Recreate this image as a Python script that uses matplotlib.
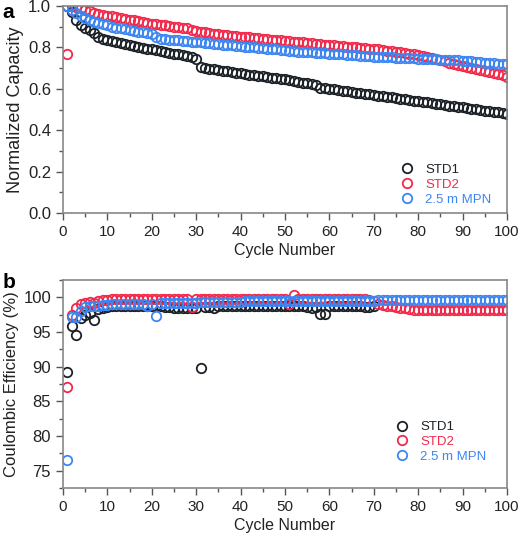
import matplotlib
matplotlib.use("Agg")
import matplotlib.pyplot as plt
from matplotlib.ticker import MultipleLocator

plt.rcParams['font.family'] = ['Liberation Sans', 'DejaVu Sans']

# cycle numbers
cycles = list(range(1, 101))

# normalized capacity
cap_std1 = [1.00, 0.97, 0.93, 0.91, 0.895, 0.885, 0.87, 0.85, 0.84, 0.835,
            0.83, 0.825, 0.82, 0.815, 0.81, 0.805, 0.80, 0.797, 0.793, 0.79,
            0.786, 0.782, 0.778, 0.774, 0.77, 0.766, 0.762, 0.758, 0.752, 0.745,
            0.705, 0.70, 0.697, 0.694, 0.69, 0.687, 0.684, 0.681, 0.678, 0.675,
            0.672, 0.669, 0.666, 0.663, 0.66, 0.657, 0.654, 0.651, 0.648, 0.645,
            0.642, 0.638, 0.634, 0.63, 0.626, 0.622, 0.618, 0.605, 0.602, 0.60,
            0.597, 0.594, 0.591, 0.588, 0.585, 0.582, 0.579, 0.576, 0.573, 0.57,
            0.567, 0.564, 0.561, 0.558, 0.555, 0.552, 0.549, 0.546, 0.543, 0.54,
            0.537, 0.534, 0.531, 0.528, 0.525, 0.522, 0.519, 0.516, 0.513, 0.51,
            0.507, 0.504, 0.501, 0.498, 0.495, 0.492, 0.489, 0.486, 0.483, 0.48]
cap_std2 = [0.77, 1.00, 0.995, 0.99, 0.98, 0.975, 0.965, 0.96, 0.957, 0.953,
            0.95, 0.946, 0.942, 0.938, 0.934, 0.93, 0.926, 0.922, 0.918, 0.915,
            0.912, 0.909, 0.906, 0.903, 0.90, 0.898, 0.896, 0.894, 0.885, 0.878,
            0.875, 0.872, 0.869, 0.866, 0.863, 0.86, 0.858, 0.856, 0.854, 0.852,
            0.85, 0.848, 0.846, 0.844, 0.842, 0.84, 0.838, 0.836, 0.834, 0.832,
            0.83, 0.828, 0.826, 0.824, 0.822, 0.82, 0.818, 0.816, 0.814, 0.812,
            0.81, 0.808, 0.806, 0.804, 0.802, 0.80, 0.798, 0.796, 0.794, 0.792,
            0.79, 0.788, 0.785, 0.782, 0.779, 0.776, 0.773, 0.77, 0.766, 0.762,
            0.757, 0.752, 0.747, 0.742, 0.737, 0.732, 0.727, 0.722, 0.717, 0.712,
            0.707, 0.702, 0.697, 0.692, 0.687, 0.682, 0.677, 0.672, 0.665, 0.658]
cap_mpn = [1.00, 0.98, 0.965, 0.95, 0.94, 0.932, 0.925, 0.918, 0.912, 0.906,
           0.90, 0.896, 0.892, 0.888, 0.884, 0.88, 0.876, 0.872, 0.868, 0.864,
           0.85, 0.843, 0.84, 0.838, 0.836, 0.834, 0.832, 0.83, 0.828, 0.826,
           0.824, 0.822, 0.82, 0.818, 0.816, 0.814, 0.812, 0.81, 0.808, 0.806,
           0.804, 0.802, 0.80, 0.798, 0.796, 0.794, 0.792, 0.79, 0.788, 0.786,
           0.784, 0.782, 0.78, 0.778, 0.777, 0.776, 0.775, 0.774, 0.772, 0.77,
           0.768, 0.767, 0.766, 0.764, 0.762, 0.761, 0.76, 0.758, 0.757, 0.756,
           0.755, 0.754, 0.753, 0.752, 0.751, 0.75, 0.749, 0.748, 0.747, 0.746,
           0.745, 0.744, 0.743, 0.742, 0.741, 0.74, 0.739, 0.738, 0.737, 0.736,
           0.735, 0.733, 0.731, 0.729, 0.727, 0.725, 0.723, 0.721, 0.72, 0.718]

# coulombic efficiency (%), STD1 recorded up to cycle 70
ce_std1 = [89.3, 95.8, 94.5, 97.0, 97.5, 97.8, 96.8, 98.3, 98.5, 98.6,
           98.7, 98.7, 98.8, 98.8, 98.8, 98.8, 98.8, 98.8, 98.8, 98.8,
           98.7, 98.7, 98.6, 98.6, 98.5, 98.5, 98.5, 98.5, 98.5, 98.5,
           89.8, 98.6, 98.6, 98.5, 98.7, 98.7, 98.7, 98.7, 98.7, 98.7,
           98.7, 98.7, 98.7, 98.7, 98.7, 98.7, 98.7, 98.7, 98.7, 98.7,
           98.7, 98.7, 98.7, 98.7, 98.6, 98.5, 98.6, 97.6, 97.6, 98.7,
           98.7, 98.7, 98.7, 98.7, 98.7, 98.7, 98.7, 98.6, 98.6, 98.7]
ce_std2 = [87.1, 97.4, 98.4, 99.0, 99.2, 99.3, 99.2, 99.5, 99.6, 99.6,
           99.7, 99.7, 99.7, 99.7, 99.7, 99.7, 99.7, 99.7, 99.7, 99.7,
           99.7, 99.7, 99.7, 99.7, 99.7, 99.7, 99.7, 99.7, 98.6, 99.7,
           99.8, 99.8, 99.8, 99.8, 99.8, 99.8, 99.8, 99.8, 99.8, 99.8,
           99.8, 99.8, 99.8, 99.8, 99.8, 99.8, 99.8, 99.8, 99.8, 99.8,
           99.0, 100.3, 99.8, 99.8, 99.8, 99.8, 99.8, 99.8, 99.8, 99.8,
           99.8, 99.8, 99.8, 99.8, 99.8, 99.8, 99.8, 99.8, 99.6, 99.4,
           99.1, 98.9, 98.8, 98.7, 98.6, 98.5, 98.4, 98.3, 98.2, 98.2,
           98.2, 98.2, 98.2, 98.2, 98.2, 98.2, 98.2, 98.2, 98.2, 98.2,
           98.2, 98.2, 98.2, 98.2, 98.2, 98.2, 98.2, 98.2, 98.2, 98.2]
ce_mpn = [76.5, 97.1, 97.2, 98.0, 98.6, 98.7, 98.8, 98.8, 98.9, 98.9,
          99.0, 99.0, 99.0, 99.1, 99.1, 99.1, 99.1, 99.1, 98.8, 99.0,
          97.3, 99.2, 99.2, 99.2, 99.2, 99.2, 99.2, 99.2, 99.2, 99.2,
          99.3, 99.3, 99.3, 99.3, 99.3, 99.3, 99.3, 99.3, 99.3, 99.3,
          99.4, 99.4, 99.4, 99.4, 99.4, 99.4, 99.4, 99.4, 99.4, 99.4,
          99.5, 99.5, 99.5, 99.5, 99.5, 99.5, 99.5, 99.5, 99.5, 99.5,
          99.5, 99.5, 99.5, 99.5, 99.5, 99.5, 99.5, 99.5, 99.5, 99.5,
          99.6, 99.6, 99.6, 99.6, 99.6, 99.6, 99.6, 99.6, 99.6, 99.6,
          99.6, 99.6, 99.6, 99.6, 99.6, 99.6, 99.6, 99.6, 99.6, 99.6,
          99.6, 99.6, 99.6, 99.6, 99.6, 99.6, 99.6, 99.6, 99.6, 99.6]

labels = ["STD1", "STD2", "2.5 m MPN"]
colors = ["#1b2127", "#f2294a", "#3d86f2"]

fig = plt.figure(figsize=(5.24, 5.36), dpi=100)
ax1 = fig.add_axes([0.120, 0.6026, 0.8476, 0.3862])
ax2 = fig.add_axes([0.120, 0.0896, 0.8476, 0.3880])

mk = dict(marker="o", linestyle="none", markersize=6.8, markerfacecolor="none",
          markeredgewidth=1.3)

ax1.plot(cycles, cap_std1, color=colors[0], label=labels[0], **mk)
ax1.plot(cycles, cap_std2, color=colors[1], label=labels[1], **mk)
ax1.plot(cycles, cap_mpn, color=colors[2], label=labels[2], **mk)

ax2.plot(cycles[:len(ce_std1)], ce_std1, color=colors[0], label=labels[0], **mk)
ax2.plot(cycles, ce_std2, color=colors[1], label=labels[1], **mk)
ax2.plot(cycles, ce_mpn, color=colors[2], label=labels[2], **mk)

ax1.set_xlim(0, 100)
ax1.set_ylim(0, 1.0)
ax1.yaxis.set_major_locator(MultipleLocator(0.2))
ax1.yaxis.set_minor_locator(MultipleLocator(0.1))
ax1.set_ylabel("Normalized Capacity", fontsize=13, color="#222", labelpad=3)

ax2.set_xlim(0, 100)
ax2.set_ylim(72.5, 102.5)
ax2.yaxis.set_major_locator(MultipleLocator(5))
ax2.yaxis.set_minor_locator(MultipleLocator(2.5))
ax2.set_ylabel("Coulombic Efficiency (%)", fontsize=12, color="#222", labelpad=3)

leg_anchor = [(0.977, 0.01), (0.966, 0.095)]
for ax, anc in zip((ax1, ax2), leg_anchor):
    ax.xaxis.set_major_locator(MultipleLocator(10))
    ax.xaxis.set_minor_locator(MultipleLocator(5))
    ax.set_xlabel("Cycle Number", fontsize=11.5, color="#222", labelpad=3)
    ax.tick_params(which="both", direction="out", colors="#555", labelcolor="#222",
                   top=False, right=False)
    ax.tick_params(axis="x", labelsize=11)
    ax.tick_params(axis="y", labelsize=12)
    ax.tick_params(which="major", length=5, width=1)
    ax.tick_params(which="minor", length=3, width=1)
    for s in ax.spines.values():
        s.set_color("#888")
        s.set_linewidth(1.2)
    leg = ax.legend(loc="lower right", frameon=False, fontsize=9.5, handletextpad=0.4,
                    labelspacing=0.2, borderaxespad=0, bbox_to_anchor=anc)
    for t, c in zip(leg.get_texts(), colors):
        t.set_color(c)

fig.text(0.005, 0.995, "a", fontsize=15, fontweight="bold", va="top", ha="left")
fig.text(0.005, 0.49, "b", fontsize=15, fontweight="bold", va="top", ha="left")

fig.savefig("out.png", dpi=100)
